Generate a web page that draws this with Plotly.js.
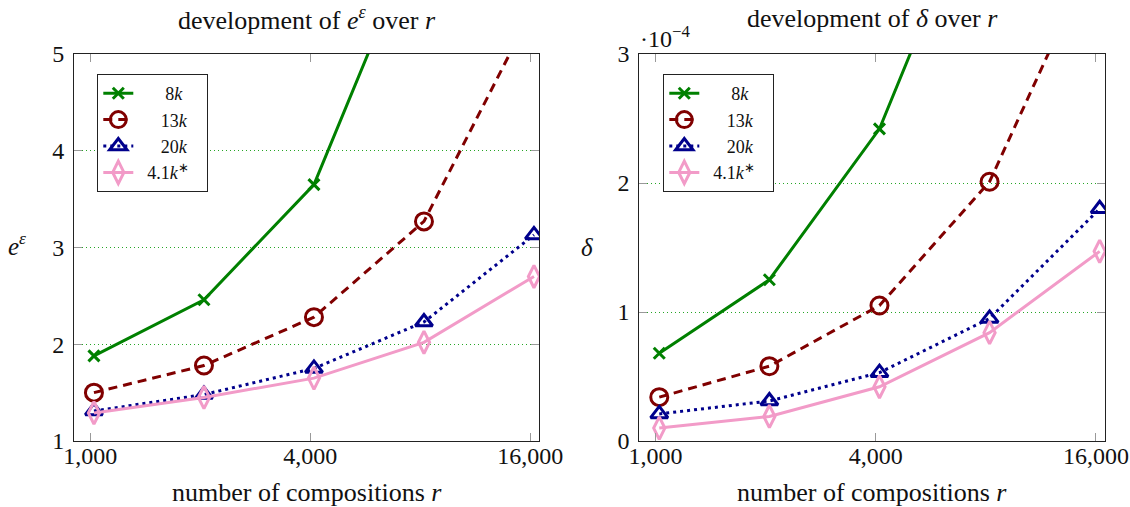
<!DOCTYPE html>
<html><head><meta charset="utf-8">
<script src="https://cdn.plot.ly/plotly-3.0.1.min.js"></script>
<style>html,body{margin:0;padding:0;background:#fff}#chart{width:1130px;height:507px}</style>
</head><body><div id="chart"></div>
<script>
// ---- data ----
const compositions = [1024, 2048, 4096, 8192, 16384];
const seriesNames = ['8<i>k</i>', '13<i>k</i>', '20<i>k</i>', '4.1<i>k</i><sup>∗</sup>'];
// left: e^epsilon
const expEps8k  = [1.88, 2.46, 3.65, 6.4, 11.0];
const expEps13k = [1.50, 1.78, 2.28, 3.27, 5.49];
const expEps20k = [1.31, 1.48, 1.75, 2.23, 3.13];
const expEps41k = [1.29, 1.45, 1.65, 2.02, 2.70];
// right: delta
const delta8k  = [0.68e-4, 1.25e-4, 2.42e-4, 4.5e-4, 8.0e-4];
const delta13k = [0.34e-4, 0.58e-4, 1.05e-4, 2.01e-4, 3.87e-4];
const delta20k = [0.21e-4, 0.31e-4, 0.53e-4, 0.95e-4, 1.80e-4];
const delta41k = [0.10e-4, 0.19e-4, 0.42e-4, 0.84e-4, 1.47e-4];
const xTickVals = [1000, 4000, 16000];
const xTickText = ['1,000', '4,000', '16,000'];
const leftYTicks = [1, 2, 3, 4, 5];
const rightYTickVals = [0, 1e-4, 2e-4, 3e-4];
const rightYTickText = ['0', '1', '2', '3'];

// ---- styles ----
const FONT = 'Liberation Serif';
const NB = '\u00A0';
const styles = [
  {color: 'rgb(0,128,0)',   dash: 'solid',     symbol: 'x-thin',            size: 11, lead: 6, trail: 0},
  {color: 'rgb(128,0,0)',   dash: '9px,6px',   symbol: 'circle-open',       size: 17, lead: 5, trail: 0},
  {color: 'rgb(0,0,140)',   dash: '3px,4px',   symbol: 'triangle-up-open',  size: 15, lead: 5, trail: 0},
  {color: 'rgb(242,155,200)', dash: 'solid',   symbol: 'diamond-tall-open', size: 16, lead: 2, trail: 3}
];

function mk(y, i, xa, ya, legend) {
  const s = styles[i];
  return {
    x: compositions, y: y, xaxis: xa, yaxis: ya, legend: legend,
    name: NB.repeat(s.lead) + seriesNames[i] + NB.repeat(s.trail),
    type: 'scatter', mode: 'lines+markers',
    line: {color: s.color, width: 3, dash: s.dash},
    marker: {symbol: s.symbol, size: s.size, color: s.color,
             line: {color: s.color, width: 3}},
    cliponaxis: true
  };
}
const traces = [
  mk(expEps8k, 0, 'x', 'y', 'legend'),
  mk(expEps13k, 1, 'x', 'y', 'legend'),
  mk(expEps20k, 2, 'x', 'y', 'legend'),
  mk(expEps41k, 3, 'x', 'y', 'legend'),
  mk(delta8k, 0, 'x2', 'y2', 'legend2'),
  mk(delta13k, 1, 'x2', 'y2', 'legend2'),
  mk(delta20k, 2, 'x2', 'y2', 'legend2'),
  mk(delta41k, 3, 'x2', 'y2', 'legend2')
];

const xRange = [2.9557, 4.2290];
const yDom = [1 - 441/507, 1 - 54/507];
function xaxis(dom) {
  return {domain: dom, type: 'log', range: xRange, tickvals: xTickVals, ticktext: xTickText,
    showgrid: false, zeroline: false, showline: true, linecolor: '#222', linewidth: 1,
    mirror: 'ticks', ticks: 'inside', ticklen: 8, tickcolor: '#999', tickwidth: 1,
    ticklabelstandoff: -7,
    tickfont: {family: FONT, size: 24, color: '#111'}, fixedrange: true};
}
function yaxis(range, tv, tt) {
  const a = {domain: yDom, range: range, tickvals: tv,
    showgrid: true, gridcolor: 'rgba(0,150,0,0.85)', griddash: '1px,3px', gridwidth: 1,
    zeroline: false, showline: true, linecolor: '#222', linewidth: 1,
    mirror: 'ticks', ticks: 'inside', ticklen: 8, tickcolor: '#999', tickwidth: 1,
    ticklabelstandoff: 4,
    tickfont: {family: FONT, size: 24, color: '#111'}, fixedrange: true};
  if (tt) a.ticktext = tt;
  return a;
}
function legend(x) {
  return {x: x, y: 1 - 74/507, xanchor: 'left', yanchor: 'top', xref: 'paper', yref: 'paper',
    bgcolor: '#fff', bordercolor: '#222', borderwidth: 1,
    font: {family: FONT, size: 18, color: '#111'}, tracegroupgap: 0};
}
const txt = (text, x, y, xa, size) => ({text: text, x: x, y: y, xref: 'paper', yref: 'paper',
  xanchor: xa || 'center', yanchor: 'middle', showarrow: false,
  font: {family: FONT, size: size || 26, color: '#111'}});

const layout = {
  width: 1130, height: 507, margin: {l: 0, r: 0, t: 0, b: 0},
  paper_bgcolor: '#fff', plot_bgcolor: '#fff', showlegend: true,
  font: {family: FONT},
  xaxis: xaxis([74/1130, 539.3/1130]),
  xaxis2: xaxis([639.3/1130, 1105/1130]),
  yaxis: yaxis([1, 5], leftYTicks),
  yaxis2: Object.assign(yaxis([0, 3e-4], rightYTickVals, rightYTickText), {anchor: 'x2'}),
  legend: legend(97.3/1130),
  legend2: legend(663.3/1130),
  annotations: [
    txt('development of <i>e</i><sup><i>ε</i></sup> over <i>r</i>', 306.6/1130, 1 - 19/507),
    txt('development of <i>δ</i> over <i>r</i>', 872/1130, 1 - 19/507),
    txt('number of compositions <i>r</i>', 306.6/1130, 1 - 492/507, 'center', 26),
    txt('number of compositions <i>r</i>', 872/1130, 1 - 492/507, 'center', 26),
    txt('<i>e</i><sup><i>ε</i></sup>', 17/1130, 1 - 244/507, 'center', 25),
    txt('<i>δ</i>', 587/1130, 1 - 247/507, 'center', 25),
    txt('·10<sup>−4</sup>', 638/1130, 1 - 37/507, 'left', 24)
  ]
};
layout.xaxis2.anchor = 'y2';
layout.xaxis.anchor = 'y';
layout.yaxis.anchor = 'x';

Plotly.newPlot('chart', traces, layout, {displayModeBar: false, staticPlot: true});
</script></body></html>
